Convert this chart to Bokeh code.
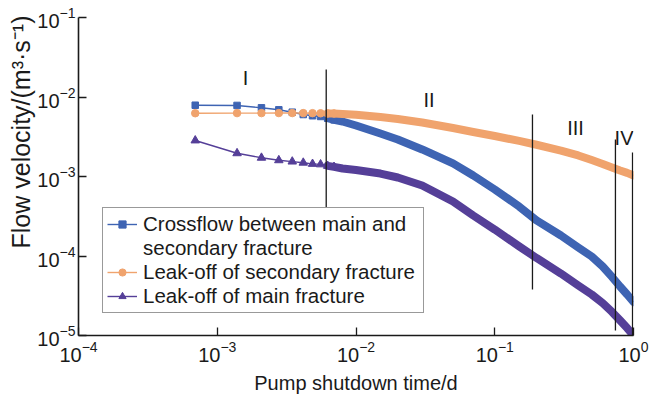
from bokeh.plotting import figure
from bokeh.models import (Range1d, FixedTicker, Legend, LegendItem, LabelSet, Title,
                          ColumnDataSource, LogTickFormatter)
from bokeh.core.properties import value
from bokeh.embed import file_html
from bokeh.resources import INLINE

# ---------------- data ----------------
time_d = [0.000694, 0.001389, 0.002083, 0.002778, 0.003472, 0.004167, 0.004861,
          0.005556, 0.00625, 0.006944, 0.008, 0.01, 0.015, 0.02, 0.03, 0.05, 0.07,
          0.1, 0.15, 0.2, 0.3, 0.4, 0.5, 0.6, 0.7, 0.8, 0.9, 1.0]

crossflow = [7.88e-3, 7.83e-3, 7.31e-3, 6.90e-3, 6.44e-3, 6.02e-3, 5.81e-3,
             5.69e-3, 5.41e-3, 5.16e-3, 4.92e-3, 4.38e-3, 3.47e-3, 2.92e-3, 2.19e-3,
             1.46e-3, 1.03e-3, 6.86e-4, 4.19e-4, 2.80e-4, 1.81e-4, 1.28e-4, 9.86e-5,
             7.38e-5, 5.45e-5, 4.13e-5, 3.28e-5, 2.64e-5]

leakoff_secondary = [6.25e-3, 6.27e-3, 6.27e-3, 6.28e-3, 6.28e-3, 6.27e-3, 6.26e-3,
                     6.24e-3, 6.22e-3, 6.20e-3, 6.12e-3, 5.98e-3, 5.60e-3, 5.29e-3,
                     4.78e-3, 4.07e-3, 3.63e-3, 3.23e-3, 2.80e-3, 2.51e-3, 2.12e-3,
                     1.84e-3, 1.61e-3, 1.44e-3, 1.30e-3, 1.19e-3, 1.11e-3, 1.03e-3]

leakoff_main = [2.84e-3, 1.96e-3, 1.72e-3, 1.60e-3, 1.54e-3, 1.49e-3, 1.44e-3,
                1.42e-3, 1.36e-3, 1.32e-3, 1.26e-3, 1.21e-3, 1.09e-3, 9.71e-4,
                7.70e-4, 4.85e-4, 3.23e-4, 2.15e-4, 1.32e-4, 9.44e-5, 6.02e-5,
                4.25e-5, 3.28e-5, 2.56e-5, 1.98e-5, 1.55e-5, 1.24e-5, 1.0e-5]

legend_lines = ["Crossflow between main and", "secondary fracture",
                "Leak-off of secondary fracture", "Leak-off of main fracture"]

n_marked = 10  # early points that are visible as separate markers

stage_t = [0.0061, 0.187, 0.741, 0.984]
stage_top = [2.22e-2, 6.03e-3, 2.92e-3, 2.0e-3]
stage_bottom = [3.96e-4, 3.8e-5, 1.16e-5, 1.0e-5]

stage_names = ["I", "II", "III", "IV"]
stage_label_t = [1.60e-3, 0.0336, 0.382, 0.855]
stage_label_v = [1.72e-2, 9.3e-3, 4.02e-3, 3.05e-3]

x_tick_vals = [1e-4, 1e-3, 1e-2, 1e-1, 1.0]
y_tick_vals = [1e-5, 1e-4, 1e-3, 1e-2, 1e-1]

x_title = "Pump shutdown time/d"
y_title = "Flow velocity/(m\u00b3\u00b7s\u207b\u00b9)"

# ---------------- styles ----------------
FONT = "Liberation Sans"
INK = "#1a1a1a"
BLUE = "#3e64b3"
ORANGE = "#f0a36d"
PURPLE = "#553f98"

p = figure(width=650, height=396, x_axis_type="log", y_axis_type="log",
           x_range=Range1d(1e-4, 1.0), y_range=Range1d(1e-5, 1e-1),
           output_backend="svg", toolbar_location=None,
           min_border_left=78, min_border_right=17, min_border_top=17,
           min_border_bottom=61)
p.outline_line_color = None
p.xgrid.visible = False
p.ygrid.visible = False
p.background_fill_color = "white"
p.border_fill_color = "white"

for ax, ticks in ((p.xaxis[0], x_tick_vals), (p.yaxis[0], y_tick_vals)):
    ax.ticker = FixedTicker(ticks=ticks, minor_ticks=[])
    ax.formatter = LogTickFormatter()
    ax.major_tick_in = 8
    ax.major_tick_out = 0
    ax.minor_tick_line_color = None
    ax.axis_line_color = INK
    ax.axis_line_width = 1.6
    ax.major_tick_line_color = INK
    ax.major_tick_line_width = 1.3
    ax.major_label_text_font = FONT
    ax.major_label_text_font_size = "20px"
    ax.major_label_text_color = INK

p.xaxis.major_label_standoff = 5
p.yaxis.major_label_standoff = 3
p.xaxis.axis_label = x_title
p.xaxis.axis_label_text_font = FONT
p.xaxis.axis_label_text_font_size = "20px"
p.xaxis.axis_label_text_font_style = "normal"
p.xaxis.axis_label_text_color = INK
p.xaxis.axis_label_standoff = 7

p.add_layout(Title(text=y_title, align="right", offset=-2, standoff=0,
                   text_font=FONT, text_font_size="25px", text_font_style="normal",
                   text_color=INK), "left")

# ---------------- series ----------------
specs = [(crossflow, BLUE, "square", 6.5),
         (leakoff_secondary, ORANGE, "circle", 7.5),
         (leakoff_main, PURPLE, "triangle", 8.5)]
legend_renderers = []
for vals, col, mk, sz in specs:
    src = ColumnDataSource(dict(t=time_d, v=vals))
    thin = p.line("t", "v", source=src, line_color=col, line_width=1.4)
    p.line(time_d[n_marked - 2:], vals[n_marked - 2:], line_color=col,
           line_width=8, line_cap="round", line_join="round")
    marks = p.scatter(time_d[:n_marked], vals[:n_marked], marker=mk, size=sz,
                      fill_color=col, line_color=col)
    legend_renderers.append([thin, marks])

# stage dividers
p.segment(x0="t", y0="b", x1="t", y1="u",
          source=ColumnDataSource(dict(t=stage_t, b=stage_bottom, u=stage_top)),
          line_color=INK, line_width=1.3)

p.add_layout(LabelSet(x="t", y="v", text="n",
                      source=ColumnDataSource(dict(t=stage_label_t, v=stage_label_v,
                                                   n=stage_names)),
                      text_align="center", text_baseline="middle",
                      text_font=value(FONT), text_font_size=value("20px"),
                      text_color=INK))

# ---------------- legend ----------------
items = [LegendItem(label=legend_lines[0], renderers=legend_renderers[0]),
         LegendItem(label=legend_lines[1], renderers=[]),
         LegendItem(label=legend_lines[2], renderers=legend_renderers[1]),
         LegendItem(label=legend_lines[3], renderers=legend_renderers[2])]
legend = Legend(items=items, location=(24, 22),
                label_text_font=FONT, label_text_font_size="20.5px",
                label_text_color=INK,
                glyph_width=30, glyph_height=18, label_height=18, label_width=276,
                label_standoff=6, padding=4, spacing=-2, margin=0,
                border_line_color="#333333", border_line_width=1.5,
                background_fill_color="white", background_fill_alpha=1.0)
p.add_layout(legend)

open("out.html", "w").write(file_html(p, INLINE))
